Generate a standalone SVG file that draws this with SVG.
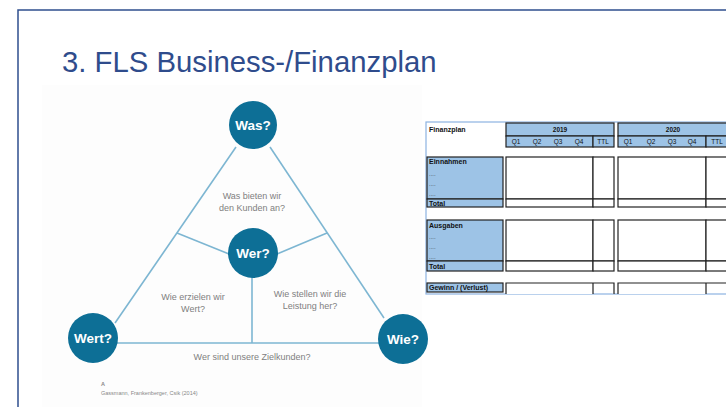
<svg xmlns="http://www.w3.org/2000/svg" width="726" height="407" viewBox="0 0 726 407">
<style>
.frame{fill:none;stroke:#2f4f8f;stroke-width:1.5}
.title{font-family:"Liberation Sans",Arial,sans-serif;font-size:29.3px;fill:#2f4c8c}
.conn{stroke:#7db6d2;stroke-width:1.6;fill:none}
.circ{fill:#0d6f96}
.clab{font-family:"Liberation Sans",Arial,sans-serif;font-size:13.5px;font-weight:bold;fill:#ffffff;text-anchor:middle}
.q{font-family:"Liberation Sans",Arial,sans-serif;font-size:9px;fill:#808080;text-anchor:middle}
.src{font-family:"Liberation Sans",Arial,sans-serif;font-size:5.5px;fill:#888888}
.tf{fill:none;stroke:#8db3e2;stroke-width:1.2}
.hb{fill:#9dc3e6;stroke:#222222;stroke-width:1.2}
.db{fill:#ffffff;stroke:#222222;stroke-width:1.2}
.lb{fill:#9dc3e6;stroke:#222222;stroke-width:1.2}
.tt{font-family:"Liberation Sans",Arial,sans-serif;font-size:7px;font-weight:bold;fill:#111111}
.th{font-family:"Liberation Sans",Arial,sans-serif;font-size:6.5px;fill:#111111;text-anchor:middle}
.thb{font-family:"Liberation Sans",Arial,sans-serif;font-size:6.5px;font-weight:bold;fill:#111111;text-anchor:middle}
.dots{font-family:"Liberation Sans",Arial,sans-serif;font-size:6px;fill:#333333}
</style>
<rect x="0" y="0" width="726" height="407" fill="#ffffff"/>
<path class="frame" d="M18,407 L18,10 L726,10"/>
<text class="title" x="62" y="72">3. FLS Business-/Finanzplan</text>
<rect x="42" y="85" width="380" height="322" fill="#fdfdfd"/>

<g id="connectors">
<line class="conn" x1="236" y1="147" x2="115" y2="323"/>
<line class="conn" x1="270" y1="147" x2="384" y2="318"/>
<line class="conn" x1="117" y1="343" x2="380" y2="343"/>
<line class="conn" x1="177" y1="233" x2="229" y2="254"/>
<line class="conn" x1="327" y1="233" x2="277" y2="254"/>
<line class="conn" x1="252" y1="277" x2="252" y2="343"/>
</g>

<g id="was"><circle class="circ" cx="253" cy="125" r="24"/><text class="clab" x="253" y="130">Was?</text></g>
<g id="wer"><circle class="circ" cx="253" cy="253" r="25"/><text class="clab" x="253" y="258">Wer?</text></g>
<g id="wert"><circle class="circ" cx="93" cy="338" r="25"/><text class="clab" x="93" y="343">Wert?</text></g>
<g id="wie"><circle class="circ" cx="403" cy="339" r="25"/><text class="clab" x="403" y="344">Wie?</text></g>

<g id="labels">
<text class="q" x="252" y="199">Was bieten wir</text>
<text class="q" x="252" y="211">den Kunden an?</text>
<text class="q" x="193" y="300">Wie erzielen wir</text>
<text class="q" x="193" y="312">Wert?</text>
<text class="q" x="310" y="297">Wie stellen wir die</text>
<text class="q" x="310" y="309">Leistung her?</text>
<text class="q" x="252" y="360">Wer sind unsere Zielkunden?</text>
<text class="src" x="101" y="386" font-weight="bold">A</text>
<text class="src" x="101" y="395">Gassmann, Frankenberger, Csik (2014)</text>
</g>

<g id="finanzplan">
<rect class="tf" x="426" y="122" width="320" height="172"/>
<text class="tt" x="429" y="132" font-size="8">Finanzplan</text>
<rect class="hb" x="506" y="123" width="108" height="13"/>
<text class="thb" x="560" y="132">2019</text>
<rect class="hb" x="506" y="136" width="87" height="11"/>
<rect class="hb" x="593" y="136" width="21" height="11"/>
<text class="th" x="516" y="144">Q1</text>
<text class="th" x="537" y="144">Q2</text>
<text class="th" x="558" y="144">Q3</text>
<text class="th" x="579" y="144">Q4</text>
<text class="th" x="603" y="144">TTL</text>
<rect class="hb" x="618" y="123" width="120" height="13"/>
<text class="thb" x="673" y="132">2020</text>
<rect class="hb" x="618" y="136" width="88" height="11"/>
<rect class="hb" x="706" y="136" width="32" height="11"/>
<text class="th" x="628" y="144">Q1</text>
<text class="th" x="651" y="144">Q2</text>
<text class="th" x="672" y="144">Q3</text>
<text class="th" x="692" y="144">Q4</text>
<text class="th" x="717" y="144">TTL</text>

<rect class="lb" x="427" y="157" width="76" height="42"/>
<rect class="lb" x="427" y="199" width="76" height="8"/>
<text class="tt" x="429" y="164">Einnahmen</text>
<text class="dots" x="429" y="176">....</text>
<text class="dots" x="429" y="186">....</text>
<text class="dots" x="429" y="196">....</text>
<text class="tt" x="429" y="206">Total</text>
<rect class="db" x="506" y="157" width="87" height="42"/>
<rect class="db" x="593" y="157" width="21" height="42"/>
<rect class="db" x="506" y="199" width="87" height="8"/>
<rect class="db" x="593" y="199" width="21" height="8"/>
<rect class="db" x="618" y="157" width="88" height="42"/>
<rect class="db" x="706" y="157" width="32" height="42"/>
<rect class="db" x="618" y="199" width="88" height="8"/>
<rect class="db" x="706" y="199" width="32" height="8"/>

<rect class="lb" x="427" y="220" width="76" height="41"/>
<rect class="lb" x="427" y="261" width="76" height="10"/>
<text class="tt" x="429" y="228">Ausgaben</text>
<text class="dots" x="429" y="239">....</text>
<text class="dots" x="429" y="249">....</text>
<text class="dots" x="429" y="259">....</text>
<text class="tt" x="429" y="269">Total</text>
<rect class="db" x="506" y="220" width="87" height="41"/>
<rect class="db" x="593" y="220" width="21" height="41"/>
<rect class="db" x="506" y="261" width="87" height="10"/>
<rect class="db" x="593" y="261" width="21" height="10"/>
<rect class="db" x="618" y="220" width="88" height="41"/>
<rect class="db" x="706" y="220" width="32" height="41"/>
<rect class="db" x="618" y="261" width="88" height="10"/>
<rect class="db" x="706" y="261" width="32" height="10"/>

<rect class="lb" x="427" y="283" width="76" height="9"/>
<text class="tt" x="429" y="290" font-size="6.5">Gewinn / (Verlust)</text>
<path class="db" d="M506,294 L506,283 L593,283 L593,294 M593,283 L614,283 L614,294"/>
<path class="db" d="M618,294 L618,283 L706,283 L706,294 M706,283 L738,283"/>
</g>
</svg>
